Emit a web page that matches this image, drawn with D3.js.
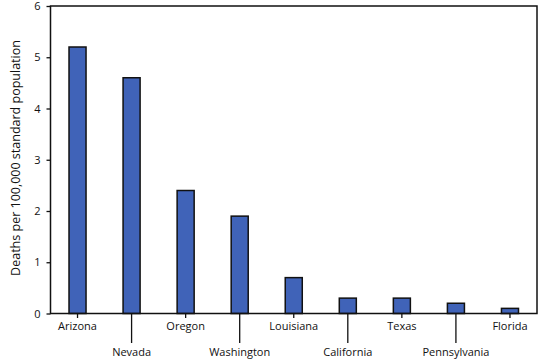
<!DOCTYPE html>
<html>
<head>
<meta charset="utf-8"/>
<script src="https://d3js.org/d3.v7.min.js"></script>
<style>
  body { margin: 0; background: white; }
  text { font-family: "Open Sans", sans-serif; fill: #111; }
</style>
</head>
<body>
<div id="chart"></div>
<script>
// data
var states = ["Arizona", "Nevada", "Oregon", "Washington", "Louisiana", "California", "Texas", "Pennsylvania", "Florida"];
var rates = [5.2, 4.6, 2.4, 1.9, 0.7, 0.3, 0.3, 0.2, 0.1];
var yTicks = [0, 1, 2, 3, 4, 5, 6];

var W = 545, H = 364;
var plotL = 50.5, plotR = 537, plotT = 6, plotB = 313.5;

var svg = d3.select("#chart").append("svg")
    .attr("width", W).attr("height", H);

var x = d3.scaleBand().domain(states).range([plotL, plotR])
    .paddingInner(0.685).paddingOuter(0.3425);
var y = d3.scaleLinear().domain([0, 6]).range([plotB, plotT]);

// bars
svg.selectAll(".bar")
  .data(states)
  .enter().append("rect")
    .attr("class", "bar")
    .attr("x", function(d) { return x(d); })
    .attr("width", x.bandwidth())
    .attr("y", function(d, i) { return y(rates[i]); })
    .attr("height", function(d, i) { return plotB - y(rates[i]); })
    .attr("fill", "#4063b8")
    .attr("stroke", "#111")
    .attr("stroke-width", 1.5);

// frame
svg.append("rect")
    .attr("x", plotL).attr("y", plotT)
    .attr("width", plotR - plotL).attr("height", plotB - plotT)
    .attr("fill", "none").attr("stroke", "#111").attr("stroke-width", 1.5);

// y axis
var yAxis = svg.append("g")
    .attr("transform", "translate(" + plotL + ",0)")
    .call(d3.axisLeft(y).tickValues(yTicks).tickFormat(d3.format("d")).tickSize(4).tickPadding(6));
yAxis.select(".domain").remove();
yAxis.selectAll("line").attr("stroke", "#111").attr("stroke-width", 1.3);
yAxis.selectAll("text").style("font-family", "'Open Sans', sans-serif").style("font-size", "11px").attr("fill", "#111");
yAxis.selectAll(".tick").filter(function(d) { return d === 6; }).select("text").attr("dy", "0.28em");

// x ticks, staggered labels
var xt = svg.selectAll(".xt")
  .data(states)
  .enter().append("g")
    .attr("class", "xt")
    .attr("transform", function(d) { return "translate(" + (x(d) + x.bandwidth() / 2) + ",0)"; });
xt.append("line")
    .attr("y1", plotB)
    .attr("y2", function(d, i) { return i % 2 ? 343 : 318; })
    .attr("stroke", "#111").attr("stroke-width", 1.3);
xt.append("text")
    .attr("y", function(d, i) { return i % 2 ? 356 : 330; })
    .attr("text-anchor", "middle")
    .style("font-size", "11px")
    .text(function(d) { return d; });

// y label
svg.append("text")
    .attr("transform", "translate(19.5,158) rotate(-90)")
    .attr("text-anchor", "middle")
    .style("font-size", "12.5px")
    .text("Deaths per 100,000 standard population");
</script>
</body>
</html>
